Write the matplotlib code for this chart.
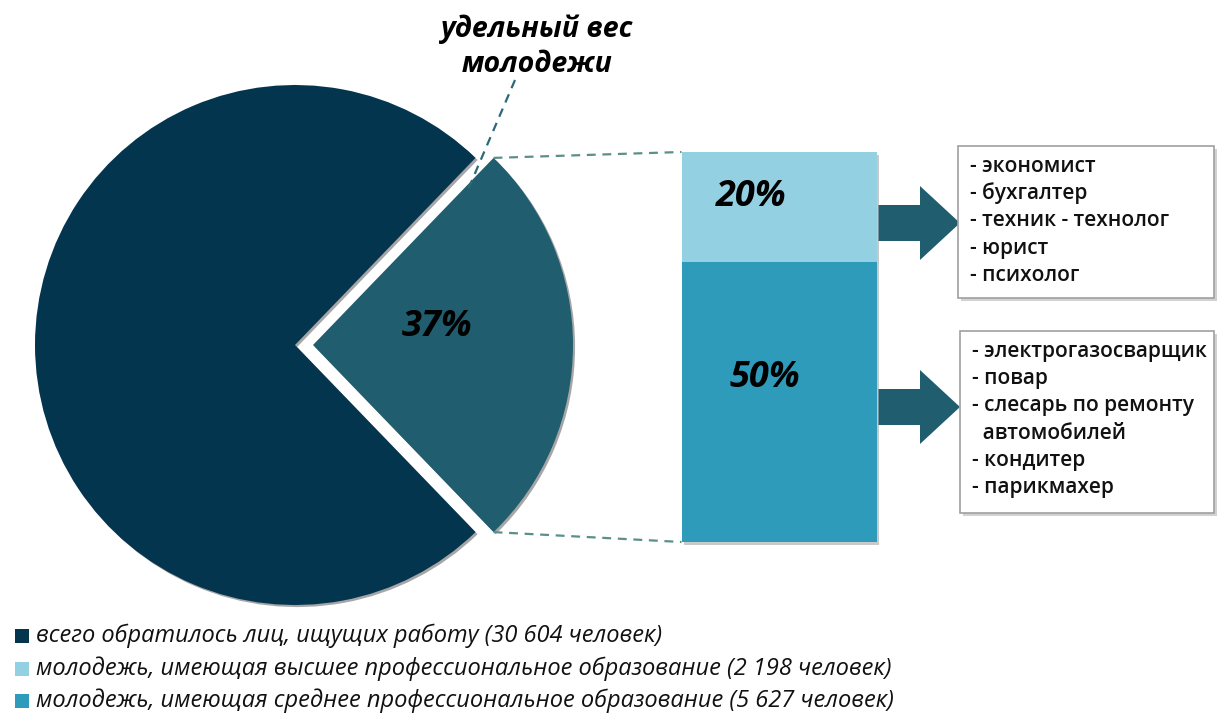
import numpy as np
import matplotlib.pyplot as plt
import matplotlib.patheffects as pe
from matplotlib.patches import Rectangle, Polygon

# data
total_people = 30604
youth_counts = [2198, 5627]          # higher edu, secondary edu
youth_share_label = "37%"
bar_pct_labels = ["20%", "50%"]
legend_labels = [
    "всего обратилось лиц, ищущих работу (30 604 человек)",
    "молодежь, имеющая высшее профессиональное образование (2 198 человек)",
    "молодежь, имеющая среднее профессиональное образование (5 627 человек)",
]
higher_jobs = ["- экономист", "- бухгалтер", "- техник - технолог", "- юрист", "- психолог"]
secondary_jobs = ["- электрогазосварщик", "- повар", "- слесарь по ремонту",
                  "  автомобилей", "- кондитер", "- парикмахер"]
callout_text = "удельный вес\nмолодежи"

# colours
c_total = "#04354f"
c_youth = "#1f5d6f"
c_higher = "#93d0e2"
c_secondary = "#2f9bba"
c_dash = "#5b8f88"

W, H = 1218, 715
plt.rcParams['font.family'] = ['Open Sans', 'DejaVu Sans']


def Y(py):
    # pixel row -> data y
    return H - py


fig = plt.figure(figsize=(W / 100, H / 100), dpi=100)
ax = fig.add_axes([0, 0, 1, 1])

shadow = [pe.SimplePatchShadow(offset=(1.5, -1.5), shadow_rgbFace="k", alpha=0.35), pe.Normal()]

# pie: youth slice centred at 0 degrees, exploded to the right
youth_total = sum(youth_counts)
pie_vals = [youth_total, total_people - youth_total]
frac = youth_total / total_people
wedges, _ = ax.pie(pie_vals, colors=[c_youth, c_total], startangle=-frac * 180,
                   center=(295, Y(345)), radius=260, explode=[18, 0],
                   wedgeprops=dict(linewidth=0), frame=True)
for w in wedges:
    w.set_path_effects(shadow)

yw = wedges[0]
cx, cy = yw.center
t1, t2 = np.radians(yw.theta1), np.radians(yw.theta2)
tip_bot = (cx + yw.r * np.cos(t1), cy + yw.r * np.sin(t1))
tip_top = (cx + yw.r * np.cos(t2), cy + yw.r * np.sin(t2))
ax.text(cx + 124, cy + 18, youth_share_label, fontsize=26, fontweight="bold",
        style="italic", ha="center", va="center", color="black")

# stacked bar for youth breakdown
bar_x, bar_w = 779, 195
bar_bottom, bar_h = Y(542), 390
scale = bar_h / youth_total
bar_left = bar_x - bar_w / 2
bar_top = bar_bottom + bar_h

bg = Rectangle((bar_left, bar_bottom), bar_w, bar_h, facecolor="white", lw=0)
bg.set_path_effects([pe.SimplePatchShadow(offset=(2, -2), alpha=0.3), pe.Normal()])
ax.add_patch(bg)
ax.bar(bar_x, youth_counts[1] * scale, width=bar_w, bottom=bar_bottom,
       color=c_secondary, linewidth=0)
ax.bar(bar_x, youth_counts[0] * scale, width=bar_w,
       bottom=bar_bottom + youth_counts[1] * scale, color=c_higher, linewidth=0)

hi_mid = bar_bottom + youth_counts[1] * scale + youth_counts[0] * scale / 2
sec_mid = bar_bottom + youth_counts[1] * scale / 2
ax.text(bar_x - 28, hi_mid + 10, bar_pct_labels[0], fontsize=26, fontweight="bold",
        style="italic", ha="center", va="center")
ax.text(bar_x - 14, sec_mid + 24, bar_pct_labels[1], fontsize=26, fontweight="bold",
        style="italic", ha="center", va="center")

# dashed connectors from slice to bar
ax.plot([tip_top[0], bar_left], [tip_top[1], bar_top], ls=(0, (4, 3)), color=c_dash, lw=1.6)
ax.plot([tip_bot[0], bar_left], [tip_bot[1], bar_bottom], ls=(0, (4, 3)), color=c_dash, lw=1.6)

# callout
ax.text(537, Y(47), callout_text, fontsize=20.5, fontweight="bold", style="italic",
        ha="center", va="center", linespacing=1.25)
ax.plot([515, 467], [Y(80), Y(192)], ls=(0, (4, 3)), color="#2c6878", lw=1.6)


def arrow(y_mid):
    x0, x1, x2 = bar_left + bar_w + 2, 920, 960
    sh, hh = 18, 37
    pts = [(x0, y_mid - sh), (x1, y_mid - sh), (x1, y_mid - hh), (x2, y_mid),
           (x1, y_mid + hh), (x1, y_mid + sh), (x0, y_mid + sh)]
    ax.add_patch(Polygon(pts, closed=True, color=c_youth, lw=0))


arrow(Y(223))
arrow(Y(407))


def job_box(top, bottom, left, items):
    box = Rectangle((left, Y(bottom)), W - 4 - left, bottom - top, facecolor="white",
                    edgecolor="#a0a0a0", lw=1.2)
    box.set_path_effects([pe.SimplePatchShadow(offset=(2, -2), alpha=0.25), pe.Normal()])
    ax.add_patch(box)
    for i, s in enumerate(items):
        ax.text(left + 12, Y(top + 20 + i * 27.4), s, fontsize=15, fontweight="semibold",
                ha="left", va="center", color="#111111")


job_box(146, 298, 958, higher_jobs)
job_box(331, 513, 960, secondary_jobs)

# legend
for i, (lab, col) in enumerate(zip(legend_labels, [c_total, c_higher, c_secondary])):
    yy = Y(636 + i * 32.5)
    ax.add_patch(Rectangle((15, yy - 7), 14, 14, color=col, lw=0))
    ax.text(36, yy, lab, fontsize=17, style="italic", ha="left", va="center", color="#111111")

ax.set_xlim(0, W)
ax.set_ylim(0, H)
ax.set_aspect("equal")
ax.axis("off")

fig.savefig("out.png", dpi=100)
